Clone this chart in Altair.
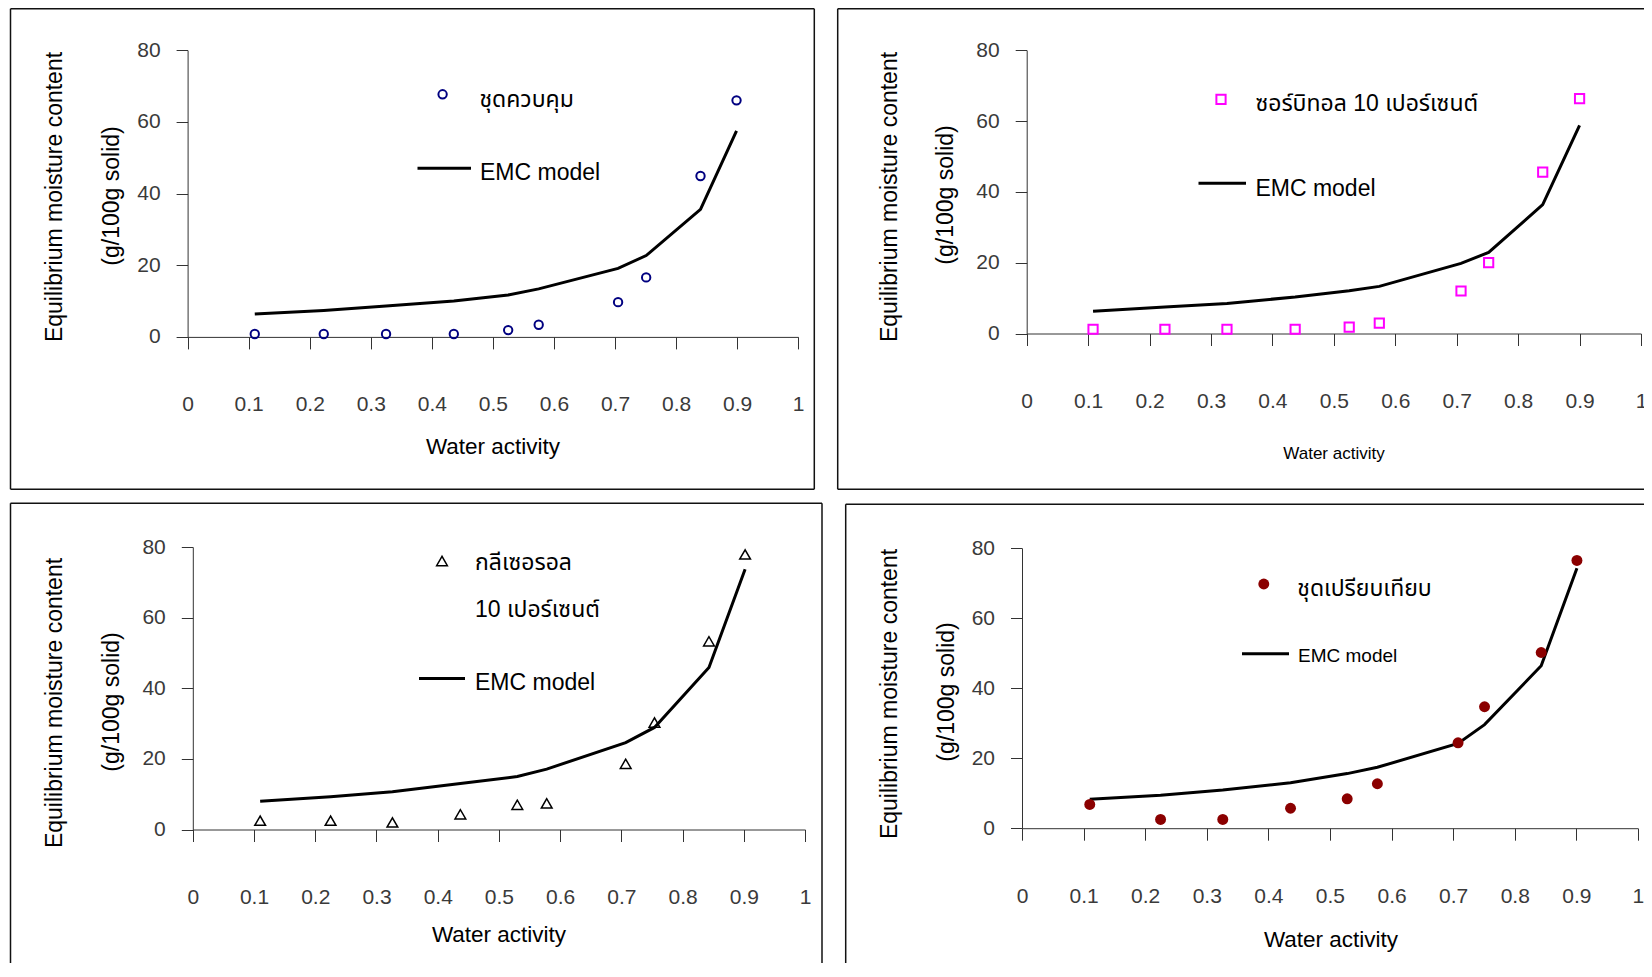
import altair as alt
import pandas as pd

# ---------------- data ----------------
x_ticks = [0, 0.1, 0.2, 0.3, 0.4, 0.5, 0.6, 0.7, 0.8, 0.9, 1]
y_ticks = [0, 20, 40, 60, 80]

# panel 1: control
aw_ctrl = [0.110, 0.223, 0.325, 0.436, 0.525, 0.575, 0.705, 0.751, 0.840, 0.899]
emc_ctrl = [0.8, 0.8, 0.8, 0.8, 1.9, 3.4, 9.7, 16.6, 44.9, 66.0]
model_ctrl = [6.4, 7.4, 8.6, 10.0, 11.7, 13.4, 19.1, 22.7, 35.6, 57.5]

# panel 2: sorbitol 10 %
aw_sorb = [0.108, 0.225, 0.326, 0.437, 0.525, 0.574, 0.707, 0.752, 0.840, 0.900]
emc_sorb = [1.2, 1.2, 1.2, 1.2, 1.8, 2.9, 12.0, 20.0, 45.6, 66.3]
model_sorb = [6.3, 7.5, 8.5, 10.3, 12.1, 13.3, 19.8, 22.9, 36.4, 58.8]

# panel 3: glycerol 10 %
aw_glyc = [0.110, 0.225, 0.326, 0.437, 0.530, 0.578, 0.707, 0.754, 0.843, 0.902]
emc_glyc = [2.5, 2.5, 2.0, 4.3, 7.0, 7.4, 18.6, 30.3, 53.3, 77.9]
model_glyc = [8.0, 9.3, 10.7, 13.0, 15.0, 17.1, 24.6, 28.9, 45.9, 73.7]

# panel 4: comparison
aw_comp = [0.110, 0.225, 0.326, 0.436, 0.528, 0.577, 0.708, 0.751, 0.843, 0.901]
emc_comp = [6.8, 2.5, 2.5, 5.7, 8.4, 12.7, 24.4, 34.7, 50.2, 76.5]
model_comp = [8.3, 9.4, 10.9, 13.0, 15.6, 17.4, 24.2, 29.6, 46.4, 74.3]

series_labels = [
    ["ชุดควบคุม"],
    ["ซอร์บิทอล 10 เปอร์เซนต์"],
    ["กลีเซอรอล", "10 เปอร์เซนต์"],
    ["ชุดเปรียบเทียบ"],
]
model_label = "EMC model"
x_title = "Water activity"
y_title = ["Equilibrium moisture content", "(g/100g solid)"]

# ---------------- layout helpers ----------------
W, H = 1636, 955
O = 8  # page margin


def p(v):
    """page pixel -> chart pixel"""
    return v - O


FONT = "Liberation Sans, Arial, Noto Sans Thai, Tahoma, sans-serif"
AX_COL = "#333333"
LAB_COL = "#3a3a3a"


def one(label=""):
    return pd.DataFrame({"t": [label]})


def axes(xr, yr):
    x_axis = alt.Axis(orient="bottom", offset=p(yr[0]) - H, values=x_ticks, format=".1~f",
                      grid=False, tickSize=12, tickColor=AX_COL, tickWidth=1,
                      domainColor=AX_COL, domainWidth=1, labelPadding=56,
                      labelBaseline="middle", labelAlign="center", labelFontSize=21,
                      labelFont=FONT, labelColor=LAB_COL, labelFlush=False,
                      labelOverlap=False, title=None)
    y_axis = alt.Axis(orient="left", offset=-p(xr[0]), values=y_ticks, grid=False,
                      tickSize=11.5, tickColor=AX_COL, tickWidth=1, domainColor=AX_COL,
                      domainWidth=1, labelPadding=16, labelAlign="right",
                      labelBaseline="middle", labelFontSize=21, labelFont=FONT,
                      labelColor=LAB_COL, labelOverlap=False, title=None)
    xs = alt.Scale(domain=[0, 1], range=[p(xr[0]), p(xr[1])], nice=False, zero=False)
    ys = alt.Scale(domain=[0, 80], range=[p(yr[0]), p(yr[1])], nice=False, zero=False)
    return xs, ys, x_axis, y_axis


def panel(aw, emc, model, xr, yr, marker, labels, sym_pos, text_x, text_ys,
          line_pos, model_text, title_pos, title_size, ytitle_pos):
    xs, ys, xa, ya = axes(xr, yr)
    df = pd.DataFrame({"aw": aw, "emc": emc, "model": model})
    line = alt.Chart(df).mark_line(color="black", strokeWidth=3).encode(
        x=alt.X("aw:Q", scale=xs, axis=xa),
        y=alt.Y("model:Q", scale=ys, axis=ya),
    )
    pts = alt.Chart(df).mark_point(**marker).encode(
        x=alt.X("aw:Q", scale=xs, axis=xa),
        y=alt.Y("emc:Q", scale=ys, axis=ya),
    )
    layers = [line, pts]
    # legend symbol
    layers.append(alt.Chart(one()).mark_point(**marker).encode(
        x=alt.value(p(sym_pos[0])), y=alt.value(p(sym_pos[1]))))
    # legend text lines
    for lab, ty in zip(labels, text_ys):
        layers.append(alt.Chart(one(lab)).mark_text(
            align="left", baseline="alphabetic", fontSize=23, font=FONT, color="black"
        ).encode(x=alt.value(p(text_x)), y=alt.value(p(ty)), text="t:N"))
    # legend line
    layers.append(alt.Chart(one()).mark_rule(color="black", strokeWidth=3).encode(
        x=alt.value(p(line_pos[0])), x2=alt.value(p(line_pos[1])), y=alt.value(p(line_pos[2]))))
    layers.append(alt.Chart(one(model_label)).mark_text(
        align="left", baseline="alphabetic", fontSize=model_text[3], font=FONT, color="black"
    ).encode(x=alt.value(p(model_text[0])), y=alt.value(p(model_text[1])), text="t:N"))
    # x title
    layers.append(alt.Chart(one(x_title)).mark_text(
        align="center", baseline="middle", fontSize=title_size, font=FONT, color="black"
    ).encode(x=alt.value(p(title_pos[0])), y=alt.value(p(title_pos[1])), text="t:N"))
    # y titles (two lines)
    for lab, (tx, ty) in zip(y_title, ytitle_pos):
        layers.append(alt.Chart(one(lab)).mark_text(
            align="center", baseline="middle", fontSize=23, font=FONT, color="black", angle=270
        ).encode(x=alt.value(p(tx)), y=alt.value(p(ty)), text="t:N"))
    return alt.layer(*layers)


circle_open = dict(shape="circle", filled=False, size=70, strokeWidth=2, color="#000080", opacity=1)
square_open = dict(shape="square", filled=False, size=85, strokeWidth=2, color="#FF00FF", opacity=1)
tri_open = dict(shape="triangle-up", filled=False, size=115, strokeWidth=1.5, color="black", opacity=1)
dot_fill = dict(shape="circle", filled=True, size=120, color="#8B0000", opacity=1)

p1 = panel(aw_ctrl, emc_ctrl, model_ctrl, (187.6, 798.2), (336.9, 50.2), circle_open,
           series_labels[0], (442.6, 94.3), 479.4, [106.5],
           (417.5, 471.0, 168.3), (480.0, 180.0, 0, 23),
           (493.0, 446.7), 22.5, [(55.0, 197.0), (112.0, 196.0)])
p2 = panel(aw_sorb, emc_sorb, model_sorb, (1026.7, 1641.0), (333.5, 50.2), square_open,
           series_labels[1], (1221.0, 99.3), 1255.4, [110.5],
           (1198.5, 1246.0, 183.3), (1255.4, 195.5, 0, 23),
           (1334.0, 454.0), 17, [(890.0, 197.0), (946.0, 195.0)])
p3 = panel(aw_glyc, emc_glyc, model_glyc, (192.8, 805.1), (829.5, 547.0), tri_open,
           series_labels[2], (442.0, 561.0), 475.0, [569.5, 616.5],
           (419.0, 465.0, 678.5), (475.0, 690.0, 0, 23),
           (499.0, 935.0), 22.5, [(55.0, 703.0), (112.0, 702.0)])
p4 = panel(aw_comp, emc_comp, model_comp, (1022.0, 1637.9), (828.2, 548.2), dot_fill,
           series_labels[3], (1263.8, 584.0), 1297.3, [596.0],
           (1242.0, 1289.0, 653.8), (1298.0, 661.7, 0, 19),
           (1331.0, 939.5), 22.5, [(890.3, 694.0), (947.2, 692.0)])


# ---------------- panel frames (decoration) ----------------
def hline(x1, x2, y):
    return alt.Chart(one()).mark_rule(color="#111111", strokeWidth=1.5).encode(
        x=alt.value(p(x1)), x2=alt.value(p(x2)), y=alt.value(p(y)))


def vline(x, y1, y2):
    return alt.Chart(one()).mark_rule(color="#111111", strokeWidth=1.5).encode(
        x=alt.value(p(x)), y=alt.value(p(y1)), y2=alt.value(p(y2)))


frames = [
    hline(10.5, 814.3, 8.7), hline(10.5, 814.3, 489.3), vline(10.5, 8.7, 489.3), vline(814.3, 8.7, 489.3),
    hline(837.7, 1660, 8.7), hline(837.7, 1660, 489.3), vline(837.7, 8.7, 489.3),
    hline(10.5, 822.0, 503.3), vline(10.5, 503.3, 990), vline(822.0, 503.3, 990),
    hline(845.7, 1660, 504.3), vline(845.7, 504.3, 990),
]

chart = alt.layer(p1, p2, p3, p4, *frames).resolve_scale(
    x="independent", y="independent"
).properties(
    width=W, height=H, padding=0,
    autosize=alt.AutoSizeParams(type="none"),
    background="white",
).configure_view(stroke=None)

chart.save("out.html", embed_options={"renderer": "svg", "actions": False})
